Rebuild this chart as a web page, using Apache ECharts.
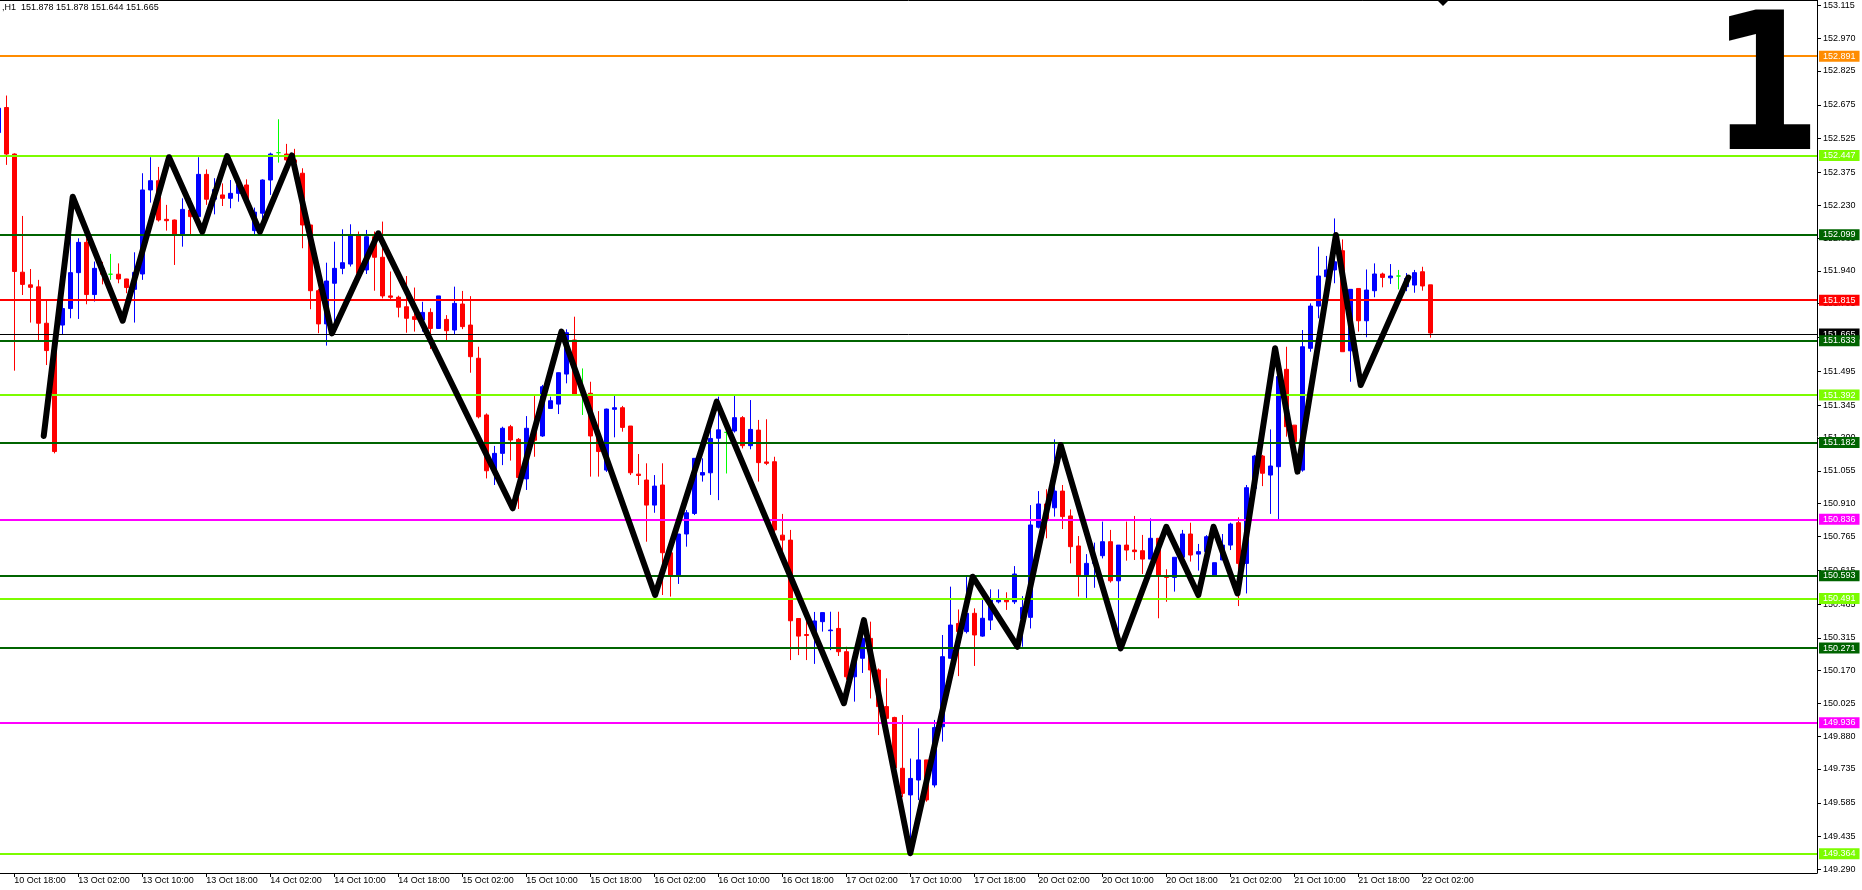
<!DOCTYPE html>
<html><head><meta charset="utf-8">
<script src="https://cdn.jsdelivr.net/npm/echarts@6/dist/echarts.min.js"></script>
<style>html,body{margin:0;padding:0;background:#fff;overflow:hidden}#c{width:1862px;height:890px}</style>
</head><body><div id="c"></div>
<script>
// ---- DATA ----
// trading sessions (day label, first hour, last hour) -> hourly bar times
const sessions = [["10 Oct",16,23],["13 Oct",0,23],["14 Oct",0,23],["15 Oct",0,23],["16 Oct",0,23],["17 Oct",0,23],["20 Oct",0,23],["21 Oct",0,23],["22 Oct",0,3]];
// hourly candles [open, high, low, close], first = 10 Oct 16:00
const ohlc = [
[152.552,152.700,152.500,152.660],[152.663,152.716,152.409,152.457],[152.457,152.460,151.498,151.937],[151.934,152.183,151.833,151.880],
[151.878,151.948,151.711,151.867],[151.869,151.900,151.627,151.708],[151.708,151.808,151.523,151.587],[151.587,151.600,151.132,151.140],
[151.700,151.850,151.660,151.773],[151.773,152.090,151.730,151.932],[151.932,152.084,151.727,152.066],[152.066,152.084,151.792,151.835],
[151.835,151.981,151.804,151.951],[151.951,151.980,151.880,151.925],[151.925,152.015,151.900,151.925],[151.925,151.973,151.885,151.904],
[151.904,151.905,151.841,151.866],[151.858,152.022,151.711,151.933],[151.926,152.372,151.900,152.298],[152.298,152.443,152.242,152.339],
[152.339,152.400,152.158,152.165],[152.168,152.232,152.118,152.162],[152.165,152.167,151.966,152.103],[152.103,152.261,152.047,152.212],
[152.209,152.261,152.103,152.180],[152.180,152.443,152.136,152.367],[152.367,152.389,152.232,152.257],[152.257,152.350,152.190,152.300],
[152.276,152.327,152.227,152.261],[152.261,152.342,152.217,152.283],[152.283,152.342,152.246,152.320],[152.320,152.345,152.240,152.246],
[152.118,152.220,152.103,152.200],[152.195,152.345,152.136,152.342],[152.342,152.463,152.276,152.457],[152.463,152.611,152.419,152.463],
[152.457,152.502,152.420,152.431],[152.431,152.480,152.400,152.420],[152.372,152.394,152.040,152.143],[152.143,152.143,151.770,151.852],
[151.852,151.860,151.664,151.705],[151.705,151.976,151.609,151.895],[151.885,152.069,151.693,151.951],[151.951,152.124,151.925,151.976],
[151.970,152.146,151.959,152.099],[152.099,152.114,151.925,151.929],[151.944,152.121,151.926,152.091],[152.091,152.114,151.852,152.000],
[152.000,152.158,151.818,151.829],[151.829,151.937,151.811,151.823],[151.823,151.830,151.734,151.779],[151.781,151.917,151.666,151.730],
[151.737,151.866,151.671,151.725],[151.722,151.803,151.671,151.756],[151.756,151.774,151.594,151.685],[151.685,151.829,151.684,151.829],
[151.725,151.744,151.626,151.675],[151.678,151.870,151.656,151.796],[151.793,151.851,151.682,151.693],[151.700,151.828,151.489,151.560],
[151.553,151.604,151.287,151.294],[151.302,151.309,151.021,151.055],[151.055,151.165,150.992,151.132],[151.132,151.250,151.080,151.243],
[151.250,151.258,151.100,151.191],[151.194,151.200,150.886,151.025],[151.019,151.297,150.970,151.243],[151.240,151.386,151.117,151.190],
[151.209,151.435,151.205,151.427],[151.331,151.383,151.331,151.365],[151.350,151.490,151.306,151.489],[151.483,151.681,151.442,151.666],
[151.634,151.737,151.393,151.393],[151.393,151.508,151.302,151.393],[151.398,151.449,151.029,151.209],[151.210,151.319,151.029,151.140],
[151.058,151.330,151.050,151.328],[151.327,151.386,151.203,151.334],[151.334,151.342,151.228,151.247],[151.253,151.253,151.036,151.046],
[151.040,151.129,150.992,151.034],[151.014,151.088,150.741,150.903],[150.903,151.036,150.869,150.987],[150.992,151.088,150.505,150.692],
[150.692,150.700,150.498,150.594],[150.594,150.775,150.554,150.775],[150.775,150.881,150.719,150.869],[150.866,151.110,150.859,151.110],
[151.036,151.110,151.007,151.047],[151.046,151.235,150.948,151.198],[151.199,151.383,150.925,151.236],[151.225,151.228,151.043,151.225],
[151.231,151.386,151.224,151.290],[151.290,151.297,151.154,151.166],[151.166,151.368,151.150,151.238],[151.235,151.280,151.007,151.091],
[151.094,151.283,151.080,151.088],[151.095,151.117,150.748,150.793],[150.770,150.864,150.677,150.748],[150.748,150.793,150.217,150.391],
[150.401,150.401,150.239,150.323],[150.330,150.393,150.217,150.326],[150.330,150.430,150.200,150.390],[150.387,150.427,150.343,150.427],
[150.347,150.431,150.261,150.350],[150.357,150.431,150.235,150.254],[150.254,150.276,150.130,150.143],[150.143,150.233,150.033,150.217],
[150.225,150.365,150.160,150.313],[150.313,150.387,150.047,150.173],[150.173,150.180,149.885,150.011],[150.011,150.136,149.885,149.959],
[149.963,149.966,149.720,149.740],[149.738,149.974,149.610,149.627],[149.620,149.781,149.361,149.693],[149.686,149.915,149.597,149.775],
[149.775,149.775,149.590,149.598],[149.664,149.952,149.653,149.918],[149.922,150.328,149.856,150.232],[150.225,150.542,150.224,150.372],
[150.379,150.441,150.146,150.343],[150.343,150.586,150.335,150.424],[150.424,150.446,150.191,150.328],[150.323,150.490,150.320,150.402],
[150.394,150.530,150.350,150.483],[150.475,150.530,150.468,150.486],[150.486,150.517,150.439,150.475],[150.475,150.633,150.465,150.598],
[150.400,150.500,150.276,150.450],[150.406,150.903,150.357,150.815],[150.805,150.965,150.800,150.908],[150.908,150.973,150.756,150.837],
[150.891,151.194,150.852,150.965],[150.965,150.992,150.797,150.852],[150.855,150.884,150.645,150.719],[150.722,150.766,150.498,150.594],
[150.594,150.686,150.486,150.645],[150.645,150.737,150.537,150.660],[150.679,150.830,150.667,150.741],[150.741,150.793,150.560,150.568],
[150.568,150.726,150.276,150.726],[150.726,150.830,150.657,150.704],[150.704,150.855,150.660,150.697],[150.701,150.771,150.598,150.664],
[150.664,150.844,150.664,150.756],[150.756,150.756,150.402,150.589],[150.589,150.619,150.475,150.583],[150.583,150.672,150.520,150.672],
[150.672,150.793,150.660,150.775],[150.775,150.825,150.653,150.682],[150.686,150.731,150.613,150.697],[150.697,150.770,150.692,150.763],
[150.593,150.648,150.593,150.648],[150.660,150.775,150.660,150.726],[150.726,150.825,150.704,150.819],[150.825,150.849,150.456,150.645],
[150.645,150.992,150.512,150.980],[150.977,151.125,150.970,151.120],[151.120,151.125,150.987,151.044],[151.036,151.238,150.864,151.076],
[151.073,151.472,150.840,151.472],[151.504,151.604,151.206,151.250],[151.257,151.257,151.058,151.184],[151.058,151.678,151.051,151.604],
[151.597,151.796,151.582,151.784],[151.784,152.047,151.730,151.917],[151.914,152.006,151.796,151.944],[151.944,152.172,151.885,151.980],
[152.029,152.079,151.582,151.582],[151.586,151.858,151.449,151.858],[151.862,151.862,151.671,151.719],[151.719,151.946,151.646,151.855],
[151.852,151.973,151.823,151.926],[151.926,151.932,151.867,151.911],[151.909,151.970,151.882,151.917],[151.917,151.944,151.858,151.917],
[151.870,151.930,151.850,151.906],[151.877,151.944,151.843,151.932],[151.936,151.958,151.852,151.873],[151.878,151.878,151.644,151.665]
];
// zigzag vertices: bar position (bars from 10 Oct 16:00) and price
const zigzagBar   = [5.68,9.3,15.55,21.34,25.5,28.6,32.7,36.7,41.7,47.5,64.3,70.4,82.1,89.8,105.7,108.2,114.0,121.8,127.4,132.8,140.3,146.0,150.0,151.9,154.9,159.6,162.4,167.2,170.3,176.25];
const zigzagPrice = [151.209,152.268,151.719,152.443,152.113,152.448,152.113,152.451,151.663,152.106,150.889,151.671,150.505,151.361,150.026,150.394,149.362,150.586,150.276,151.169,150.269,150.807,150.505,150.807,150.512,151.597,151.051,152.099,151.435,151.910];
// horizontal price levels
const levelPrices = [152.891,152.447,152.099,151.815,151.665,151.633,151.392,151.182,150.836,150.593,150.491,150.271,149.936,149.364];
const levelColors = ["#ff8c00","#7cfc00","#006400","#ff0000","#000000","#006400","#7cfc00","#006400","#ff00ff","#006400","#7cfc00","#006400","#ff00ff","#7cfc00"];
// price-axis tick labels
const yTickValues = [153.115,152.970,152.825,152.675,152.525,152.375,152.230,152.085,151.940,151.795,151.645,151.495,151.345,151.200,151.055,150.910,150.765,150.615,150.465,150.315,150.170,150.025,149.880,149.735,149.585,149.435,149.290];
// bars carrying a time label (every 8th bar from 10 Oct 18:00)
const timeTickBars = [2,10,18,26,34,42,50,58,66,74,82,90,98,106,114,122,130,138,146,154,162,170,178];
const headerText = ",H1  151.878 151.878 151.644 151.665";
const yMin = 149.2744, yMax = 153.1389;
const xMin = 0.2125, xMax = 227.3375;

// ---- BUILD ----
function hasFont(name){const c=document.createElement('canvas').getContext('2d');const s='1234567890.Oct';c.font='20px monospace';const a=c.measureText(s).width;c.font='20px "'+name+'", monospace';return c.measureText(s).width!==a;}
const narrow = hasFont('Liberation Sans Narrow');
const FONT = narrow ? '"Liberation Sans Narrow", "Liberation Sans", sans-serif' : '"Liberation Sans", sans-serif';
const FS = narrow ? 11 : 9;

const times = [];
sessions.forEach(([d,h0,h1]) => { for (let h=h0; h<=h1; h++) times.push(d + ' ' + String(h).padStart(2,'0') + ':00'); });

const mainData = [], dojiData = [];
ohlc.forEach((d,i) => { const item = [i, d[0], d[3], d[2], d[1]]; (d[0]===d[3] ? dojiData : mainData).push(item); });
const zig = zigzagBar.map((b,i) => [b, zigzagPrice[i]]);

const chart = echarts.init(document.getElementById('c'), null, {renderer:'canvas'});
chart.setOption({
  animation: false,
  backgroundColor: '#ffffff',
  grid: {left: 0, right: 45, top: 0, bottom: 17, show: false, containLabel: false},
  xAxis: [{
    type: 'value', min: xMin, max: xMax, position: 'bottom',
    axisLine: {show: true, onZero: false, lineStyle: {color: '#000', width: 1}},
    axisTick: {show: true, customValues: timeTickBars, length: 4, lineStyle: {color: '#000'}},
    axisLabel: {show: true, customValues: timeTickBars, formatter: v => times[Math.round(v)] || '', align: 'left', margin: 3, color: '#000', fontFamily: FONT, fontSize: FS},
    splitLine: {show: false}
  }, {
    type: 'value', min: xMin, max: xMax, position: 'top',
    axisLine: {show: true, onZero: false, lineStyle: {color: '#000', width: 1}},
    axisTick: {show: false}, axisLabel: {show: false}, splitLine: {show: false}
  }],
  yAxis: {
    type: 'value', position: 'right', min: yMin, max: yMax, scale: true,
    axisLine: {show: true, onZero: false, lineStyle: {color: '#000', width: 1}},
    axisTick: {show: true, customValues: yTickValues, length: 4, inside: false, lineStyle: {color: '#000'}},
    axisLabel: {show: true, customValues: yTickValues, formatter: v => v.toFixed(3), margin: 6, color: '#000', fontFamily: FONT, fontSize: FS},
    splitLine: {show: false}
  },
  series: [
    {type: 'candlestick', data: mainData, barWidth: 5, z: 2, silent: true, clip: true,
     itemStyle: {color: '#0000ff', color0: '#ff0000', borderColor: '#0000ff', borderColor0: '#ff0000', borderWidth: 1}},
    {type: 'candlestick', data: dojiData, barWidth: 5, z: 2, silent: true, clip: true,
     itemStyle: {color: '#00ff00', color0: '#00ff00', borderColor: '#00ff00', borderColor0: '#00ff00', borderColorDoji: '#00ff00', borderWidth: 1}},
    {type: 'line', data: [], z: 3, silent: true, clip: false,
     markLine: {silent: true, symbol: ['none','none'], animation: false,
       data: levelPrices.map((p,i) => ({
         yAxis: p,
         lineStyle: {color: levelColors[i], width: levelColors[i]==='#000000' ? 1 : 2, type: 'solid'},
         label: {show: true, position: 'end', distance: 2, formatter: () => p.toFixed(3), color: '#fff',
                 backgroundColor: levelColors[i], padding: [1,4,1,4], fontFamily: FONT, fontSize: FS, lineHeight: FS}
       }))}},
    {type: 'line', data: zig, z: 5, silent: true, symbol: 'none', clip: true,
     lineStyle: {color: '#000', width: 6, cap: 'round', join: 'round'}}
  ],
  graphic: [
    {type: 'text', left: 2, top: 3, z: 10, style: {text: headerText, fill: '#000', font: FS + 'px ' + FONT}},
    {type: 'text', z: 10, x: 1766, y: 100, scaleX: 0.83, style: {text: '1', fill: '#000', font: 'bold 190px "DejaVu Sans", sans-serif', textAlign: 'center', textVerticalAlign: 'middle'}},
    {type: 'polygon', z: 10, shape: {points: [[1437,0],[1449,0],[1443,6]]}, style: {fill: '#000'}}
  ]
});
</script>
</body></html>
